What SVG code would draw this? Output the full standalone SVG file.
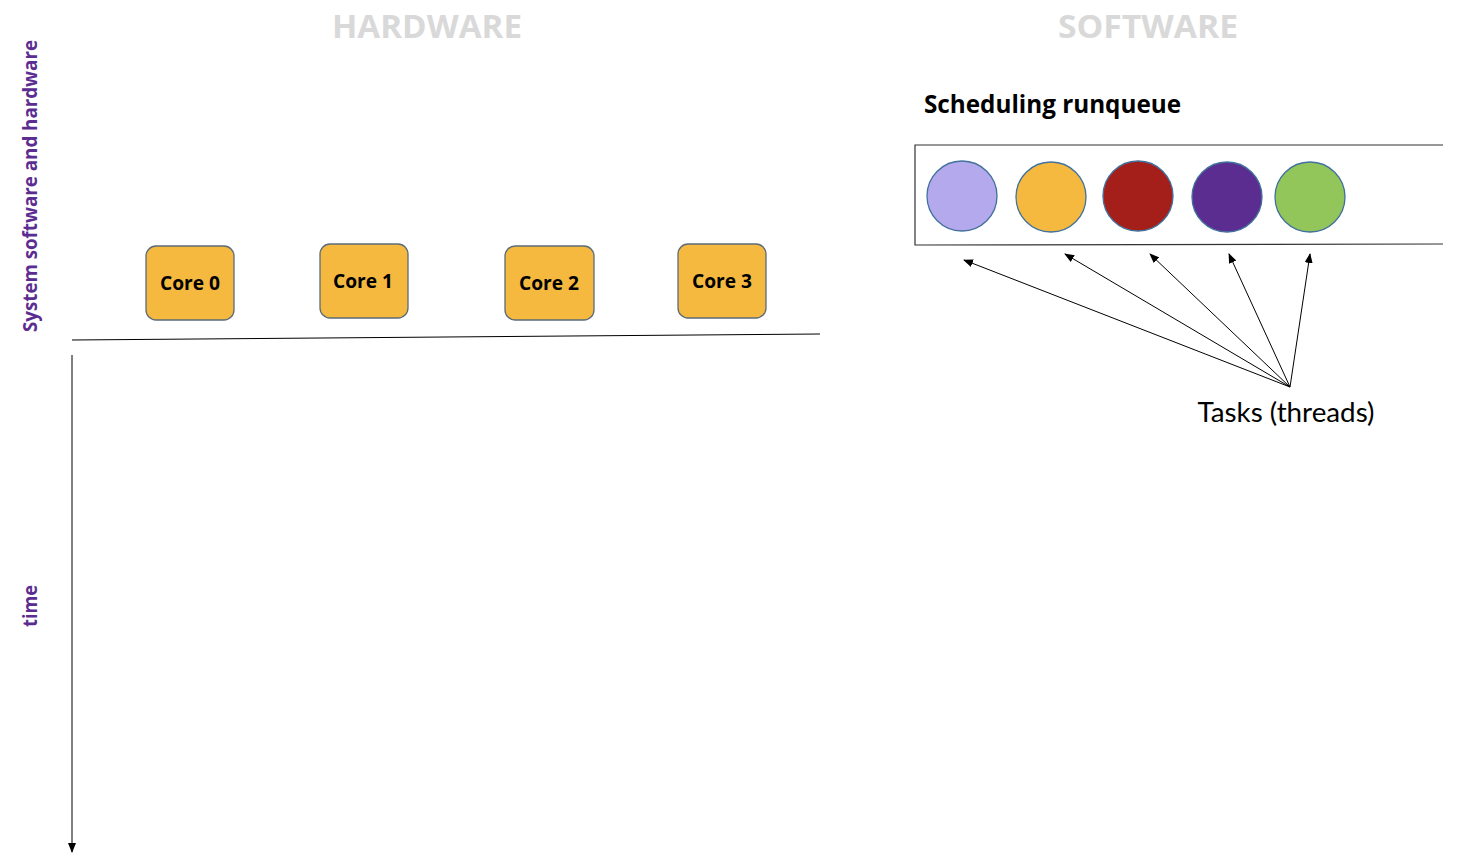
<svg xmlns="http://www.w3.org/2000/svg" width="1480" height="854" viewBox="0 0 1480 854">
<style>
.core rect{fill:#F4B93E;stroke:#5B6B78;stroke-width:1.3}
.core text{font-family:"Open Sans","Liberation Sans",sans-serif;font-weight:bold;font-size:20px;fill:#000;text-anchor:middle}
.hdr{font-family:"Open Sans","Liberation Sans",sans-serif;font-weight:bold;font-size:33px;fill:#D9D9D9;text-anchor:middle}
.side{font-family:"Open Sans","Liberation Sans",sans-serif;font-weight:bold;font-size:19px;fill:#5C2D91;text-anchor:middle}
.task circle{stroke:#41719C;stroke-width:1.3}
.conn line{stroke:#000;stroke-width:1;fill:none}
</style>
<defs>
<marker id="ah" markerWidth="10" markerHeight="8" refX="9" refY="4" orient="auto" markerUnits="userSpaceOnUse">
<path d="M0,0 L10,4 L0,8 z" fill="#000"/>
</marker>
</defs>
<rect width="1480" height="854" fill="#fff"/>
<text class="hdr" x="427" y="38" textLength="190" lengthAdjust="spacingAndGlyphs">HARDWARE</text>
<text class="hdr" x="1148" y="38" textLength="180" lengthAdjust="spacingAndGlyphs">SOFTWARE</text>
<text class="side" transform="translate(37,186) rotate(-90)" textLength="292" lengthAdjust="spacingAndGlyphs">System software and hardware</text>
<text class="side" transform="translate(37,606) rotate(-90)" textLength="42" lengthAdjust="spacingAndGlyphs">time</text>
<g id="core0" class="core"><rect x="146" y="246" width="88" height="74" rx="10"/><text x="190" y="290" textLength="60" lengthAdjust="spacingAndGlyphs">Core 0</text></g>
<g id="core1" class="core"><rect x="320" y="244" width="88" height="74" rx="10"/><text x="363" y="288" textLength="60" lengthAdjust="spacingAndGlyphs">Core 1</text></g>
<g id="core2" class="core"><rect x="505" y="246" width="89" height="74" rx="10"/><text x="549" y="290" textLength="60" lengthAdjust="spacingAndGlyphs">Core 2</text></g>
<g id="core3" class="core"><rect x="678" y="244" width="88" height="74" rx="10"/><text x="722" y="288" textLength="60" lengthAdjust="spacingAndGlyphs">Core 3</text></g>
<text x="924" y="113" font-family="'Open Sans','Liberation Sans',sans-serif" font-weight="bold" font-size="25" fill="#000" textLength="257" lengthAdjust="spacingAndGlyphs">Scheduling runqueue</text>
<g id="runqueue" fill="none" stroke="#333" stroke-width="1.2">
<path d="M1443,145 L915,145 L915,245 L1443,244"/>
</g>
<g id="task0" class="task"><circle cx="962" cy="196" r="35" fill="#B3A9EC"/></g>
<g id="task1" class="task"><circle cx="1051" cy="197" r="35" fill="#F4B93E"/></g>
<g id="task2" class="task"><circle cx="1138" cy="196" r="35" fill="#A51F1A"/></g>
<g id="task3" class="task"><circle cx="1227" cy="197" r="35" fill="#5C2D91"/></g>
<g id="task4" class="task"><circle cx="1310" cy="197" r="35" fill="#92C65A"/></g>
<text x="1286" y="422" font-family="Lato,'Open Sans',sans-serif" font-size="26" fill="#000" text-anchor="middle" textLength="177" lengthAdjust="spacingAndGlyphs">Tasks (threads)</text>
<g id="connectors" class="conn">
<line x1="72" y1="340" x2="820" y2="334"/>
<line x1="72" y1="355" x2="72" y2="852" marker-end="url(#ah)"/>
<line x1="1290" y1="387" x2="964" y2="260" marker-end="url(#ah)"/>
<line x1="1290" y1="387" x2="1065" y2="254" marker-end="url(#ah)"/>
<line x1="1290" y1="387" x2="1150" y2="254" marker-end="url(#ah)"/>
<line x1="1290" y1="387" x2="1229" y2="254" marker-end="url(#ah)"/>
<line x1="1290" y1="387" x2="1310" y2="254" marker-end="url(#ah)"/>
</g>
</svg>
